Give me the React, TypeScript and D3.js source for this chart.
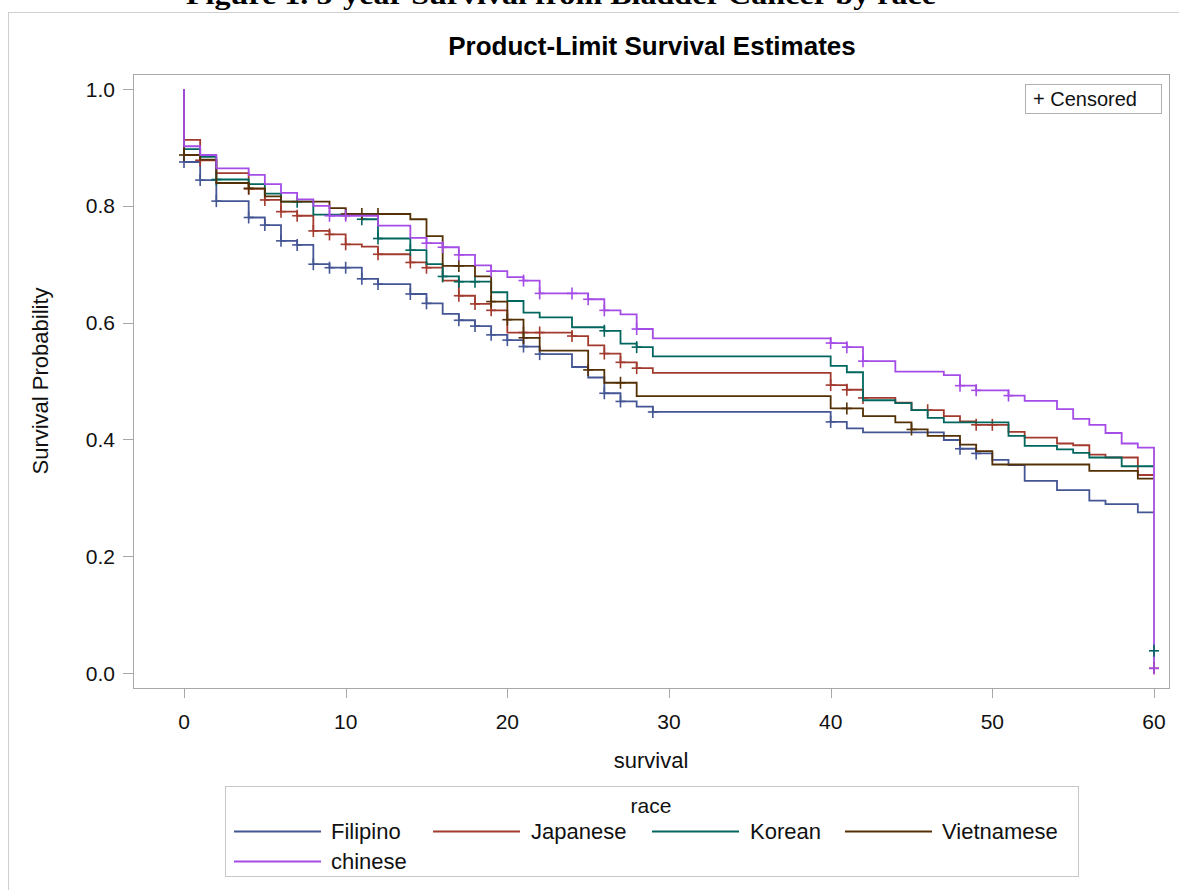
import React from 'react';
import * as d3 from 'd3';

// Kaplan-Meier steps (time in months, survival after the drop)
const groups = ['Filipino', 'Japanese', 'Korean', 'Vietnamese', 'chinese'];
const groupColors = ['#445694', '#A23A2E', '#01665E', '#543005', '#A54CE6'];

const filipinoTimes = [0, 1, 2, 4, 5, 6, 7, 8, 9, 11, 12, 14, 15, 16, 17, 18, 19, 20, 21, 22, 24, 25, 26, 27, 28, 29, 40, 41, 42, 47, 48, 49, 50, 51, 52, 54, 56, 57, 59];
const filipinoSurv = [0.875, 0.844, 0.808, 0.780, 0.767, 0.740, 0.733, 0.700, 0.694, 0.675, 0.666, 0.649, 0.633, 0.615, 0.604, 0.594, 0.579, 0.570, 0.559, 0.546, 0.524, 0.506, 0.479, 0.465, 0.456, 0.447, 0.430, 0.419, 0.412, 0.399, 0.384, 0.376, 0.365, 0.356, 0.329, 0.313, 0.295, 0.289, 0.275];
const filipinoCensored = [0, 1, 2, 4, 5, 6, 7, 8, 9, 10, 11, 12, 14, 15, 17, 18, 19, 20, 21, 22, 26, 27, 29, 40, 48, 49];

const japaneseTimes = [0, 1, 2, 4, 5, 6, 7, 8, 9, 10, 11, 12, 14, 15, 16, 17, 18, 19, 20, 24, 25, 26, 27, 28, 29, 40, 41, 42, 44, 45, 47, 48, 49, 51, 52, 54, 55, 56, 57, 59];
const japaneseSurv = [0.913, 0.878, 0.856, 0.829, 0.810, 0.790, 0.783, 0.757, 0.751, 0.734, 0.730, 0.717, 0.703, 0.694, 0.672, 0.646, 0.632, 0.621, 0.583, 0.577, 0.561, 0.547, 0.532, 0.522, 0.514, 0.493, 0.485, 0.471, 0.463, 0.450, 0.440, 0.431, 0.425, 0.413, 0.403, 0.393, 0.390, 0.374, 0.369, 0.339];
const japaneseCensored = [1, 4, 5, 6, 7, 8, 9, 10, 12, 14, 15, 17, 18, 19, 21, 22, 24, 26, 27, 28, 40, 41, 42, 46, 49, 50];

const koreanTimes = [0, 1, 2, 4, 5, 6, 8, 11, 12, 14, 15, 16, 17, 19, 20, 21, 22, 24, 26, 27, 28, 29, 40, 41, 42, 44, 45, 46, 47, 51, 52, 54, 55, 56, 58];
const koreanSurv = [0.897, 0.884, 0.845, 0.837, 0.821, 0.807, 0.785, 0.777, 0.744, 0.724, 0.700, 0.679, 0.670, 0.652, 0.637, 0.617, 0.609, 0.592, 0.586, 0.564, 0.558, 0.542, 0.526, 0.515, 0.467, 0.462, 0.450, 0.437, 0.429, 0.406, 0.389, 0.383, 0.377, 0.369, 0.354];
const koreanCensored = [2, 7, 11, 12, 14, 16, 17, 18, 26, 28];

const vietnameseTimes = [0, 1, 2, 4, 5, 6, 9, 10, 14, 15, 16, 18, 19, 20, 21, 22, 25, 26, 28, 40, 42, 44, 45, 46, 48, 49, 50, 56, 59];
const vietnameseSurv = [0.887, 0.879, 0.839, 0.830, 0.816, 0.807, 0.796, 0.786, 0.777, 0.748, 0.697, 0.679, 0.636, 0.605, 0.574, 0.552, 0.519, 0.497, 0.474, 0.453, 0.440, 0.429, 0.417, 0.406, 0.391, 0.380, 0.357, 0.346, 0.333];
const vietnameseCensored = [0, 4, 10, 11, 12, 17, 19, 20, 21, 25, 27, 41, 45];

const chineseTimes = [0, 1, 2, 4, 5, 6, 7, 8, 9, 12, 14, 15, 16, 17, 18, 19, 20, 21, 22, 25, 26, 27, 28, 29, 40, 41, 42, 44, 47, 48, 49, 51, 52, 54, 55, 56, 57, 58, 59, 60];
const chineseSurv = [0.902, 0.887, 0.864, 0.853, 0.837, 0.822, 0.811, 0.800, 0.783, 0.766, 0.745, 0.736, 0.729, 0.716, 0.698, 0.688, 0.678, 0.672, 0.650, 0.640, 0.621, 0.614, 0.589, 0.573, 0.565, 0.558, 0.534, 0.516, 0.510, 0.492, 0.484, 0.475, 0.466, 0.452, 0.435, 0.425, 0.411, 0.393, 0.386, 0];
const chineseCensored = [9, 10, 15, 16, 17, 19, 21, 22, 24, 25, 26, 28, 40, 41, 42, 48, 49, 51];

// odd censor marks sitting near zero at t=60 (group index, time, survival)
const tailMarks: [number, number, number][] = [[2, 60, 0.038], [1, 60, 0.008], [4, 60, 0.008]];

const xTicks = [0, 10, 20, 30, 40, 50, 60];
const yTicks = [0, 0.2, 0.4, 0.6, 0.8, 1.0];

const series = [
  { times: filipinoTimes, surv: filipinoSurv, cens: filipinoCensored },
  { times: japaneseTimes, surv: japaneseSurv, cens: japaneseCensored },
  { times: koreanTimes, surv: koreanSurv, cens: koreanCensored },
  { times: vietnameseTimes, surv: vietnameseSurv, cens: vietnameseCensored },
  { times: chineseTimes, surv: chineseSurv, cens: chineseCensored },
];

const W = 1179;
const H = 890;
const plot = { left: 133, top: 74, right: 1169, bottom: 688 };
const font = '"Liberation Sans", Arial, sans-serif';

const x = d3.scaleLinear().domain([0, 60]).range([184, 1154]);
const y = d3.scaleLinear().domain([0, 1]).range([673, 89]);

const stepLine = d3.line<[number, number]>()
  .x(d => x(d[0]))
  .y(d => y(d[1]))
  .curve(d3.curveStepAfter);

function survAt(times: number[], surv: number[], t: number) {
  let s = 1;
  for (let i = 0; i < times.length; i++) {
    if (times[i] <= t) s = surv[i];
  }
  return s;
}

function Cross({ cx, cy, color }: { cx: number; cy: number; color: string }) {
  return (
    <g stroke={color} strokeWidth={1.6}>
      <line x1={cx - 5} x2={cx + 5} y1={cy} y2={cy} />
      <line x1={cx} x2={cx} y1={cy - 6} y2={cy + 6} />
    </g>
  );
}

export default function App() {
  const legendRow1 = [
    { i: 0, lx: 234, tx: 331, row: 0 },
    { i: 1, lx: 433, tx: 531, row: 0 },
    { i: 2, lx: 652, tx: 750, row: 0 },
    { i: 3, lx: 845, tx: 942, row: 0 },
    { i: 4, lx: 234, tx: 331, row: 1 },
  ];

  return (
    <svg width={W} height={H} style={{ position: 'absolute', left: 0, top: 0, background: '#fff' }}>
      {/* caption cut off at the top of the page */}
      <text x={186} y={4} fontFamily='"Liberation Serif", "Times New Roman", serif' fontSize={28}
        fontWeight="bold" textLength={750} lengthAdjust="spacingAndGlyphs">
        Figure 1. 5-year Survival from Bladder Cancer by race
      </text>

      {/* outer frame */}
      <line x1={8.5} x2={8.5} y1={12} y2={H} stroke="#cfcfcf" />
      <line x1={8} x2={W} y1={12.5} y2={12.5} stroke="#cfcfcf" />

      <text x={652} y={55} textAnchor="middle" fontFamily={font} fontSize={26} fontWeight="bold">
        Product-Limit Survival Estimates
      </text>

      {/* plot frame */}
      <rect x={plot.left + 0.5} y={plot.top + 0.5} width={plot.right - plot.left} height={plot.bottom - plot.top}
        fill="none" stroke="#a8a8a8" />

      {/* y axis */}
      {yTicks.map(t => (
        <g key={'y' + t}>
          <line x1={plot.left - 10} x2={plot.left} y1={Math.round(y(t)) + 0.5} y2={Math.round(y(t)) + 0.5} stroke="#a8a8a8" />
          <text x={115} y={y(t)} dy="0.36em" textAnchor="end" fontFamily={font} fontSize={21} fill="#111">
            {t.toFixed(1)}
          </text>
        </g>
      ))}
      <text transform={`translate(48, ${(plot.top + plot.bottom) / 2}) rotate(-90)`} textAnchor="middle"
        fontFamily={font} fontSize={22} fill="#111">
        Survival Probability
      </text>

      {/* x axis */}
      {xTicks.map(t => (
        <g key={'x' + t}>
          <line x1={Math.round(x(t)) + 0.5} x2={Math.round(x(t)) + 0.5} y1={plot.bottom} y2={plot.bottom + 10} stroke="#a8a8a8" />
          <text x={x(t)} y={729} textAnchor="middle" fontFamily={font} fontSize={21} fill="#111">{t}</text>
        </g>
      ))}
      <text x={651} y={768} textAnchor="middle" fontFamily={font} fontSize={22} fill="#111">survival</text>

      {/* survival curves */}
      {series.map((s, i) => {
        const pts: [number, number][] = [[0, 1]];
        s.times.forEach((t, k) => pts.push([t, s.surv[k]]));
        pts.push([60, s.surv[s.surv.length - 1]]);
        return (
          <g key={groups[i]}>
            <path d={stepLine(pts) || ''} fill="none" stroke={groupColors[i]} strokeWidth={1.8} />
            {s.cens.map(t => (
              <Cross key={t} cx={x(t)} cy={y(survAt(s.times, s.surv, t))} color={groupColors[i]} />
            ))}
          </g>
        );
      })}
      {tailMarks.map(([g, t, p], k) => (
        <Cross key={'tail' + k} cx={x(t)} cy={y(p)} color={groupColors[g]} />
      ))}

      {/* censored legend */}
      <rect x={1025.5} y={84.5} width={136} height={29} fill="#fff" stroke="#b0b0b0" />
      <text x={1033} y={106} fontFamily={font} fontSize={20} fill="#111">+ Censored</text>

      {/* group legend */}
      <rect x={225.5} y={786.5} width={853} height={90} fill="#fff" stroke="#c8c8c8" />
      <text x={651} y={813} textAnchor="middle" fontFamily={font} fontSize={21} fill="#111">race</text>
      {legendRow1.map(e => {
        const cy = 831 + e.row * 30;
        return (
          <g key={'lg' + e.i}>
            <line x1={e.lx} x2={e.lx + 87} y1={cy + 0.5} y2={cy + 0.5} stroke={groupColors[e.i]} strokeWidth={1.8} />
            <text x={e.tx} y={cy} dy="0.36em" fontFamily={font} fontSize={22} fill="#111">{groups[e.i]}</text>
          </g>
        );
      })}
    </svg>
  );
}
